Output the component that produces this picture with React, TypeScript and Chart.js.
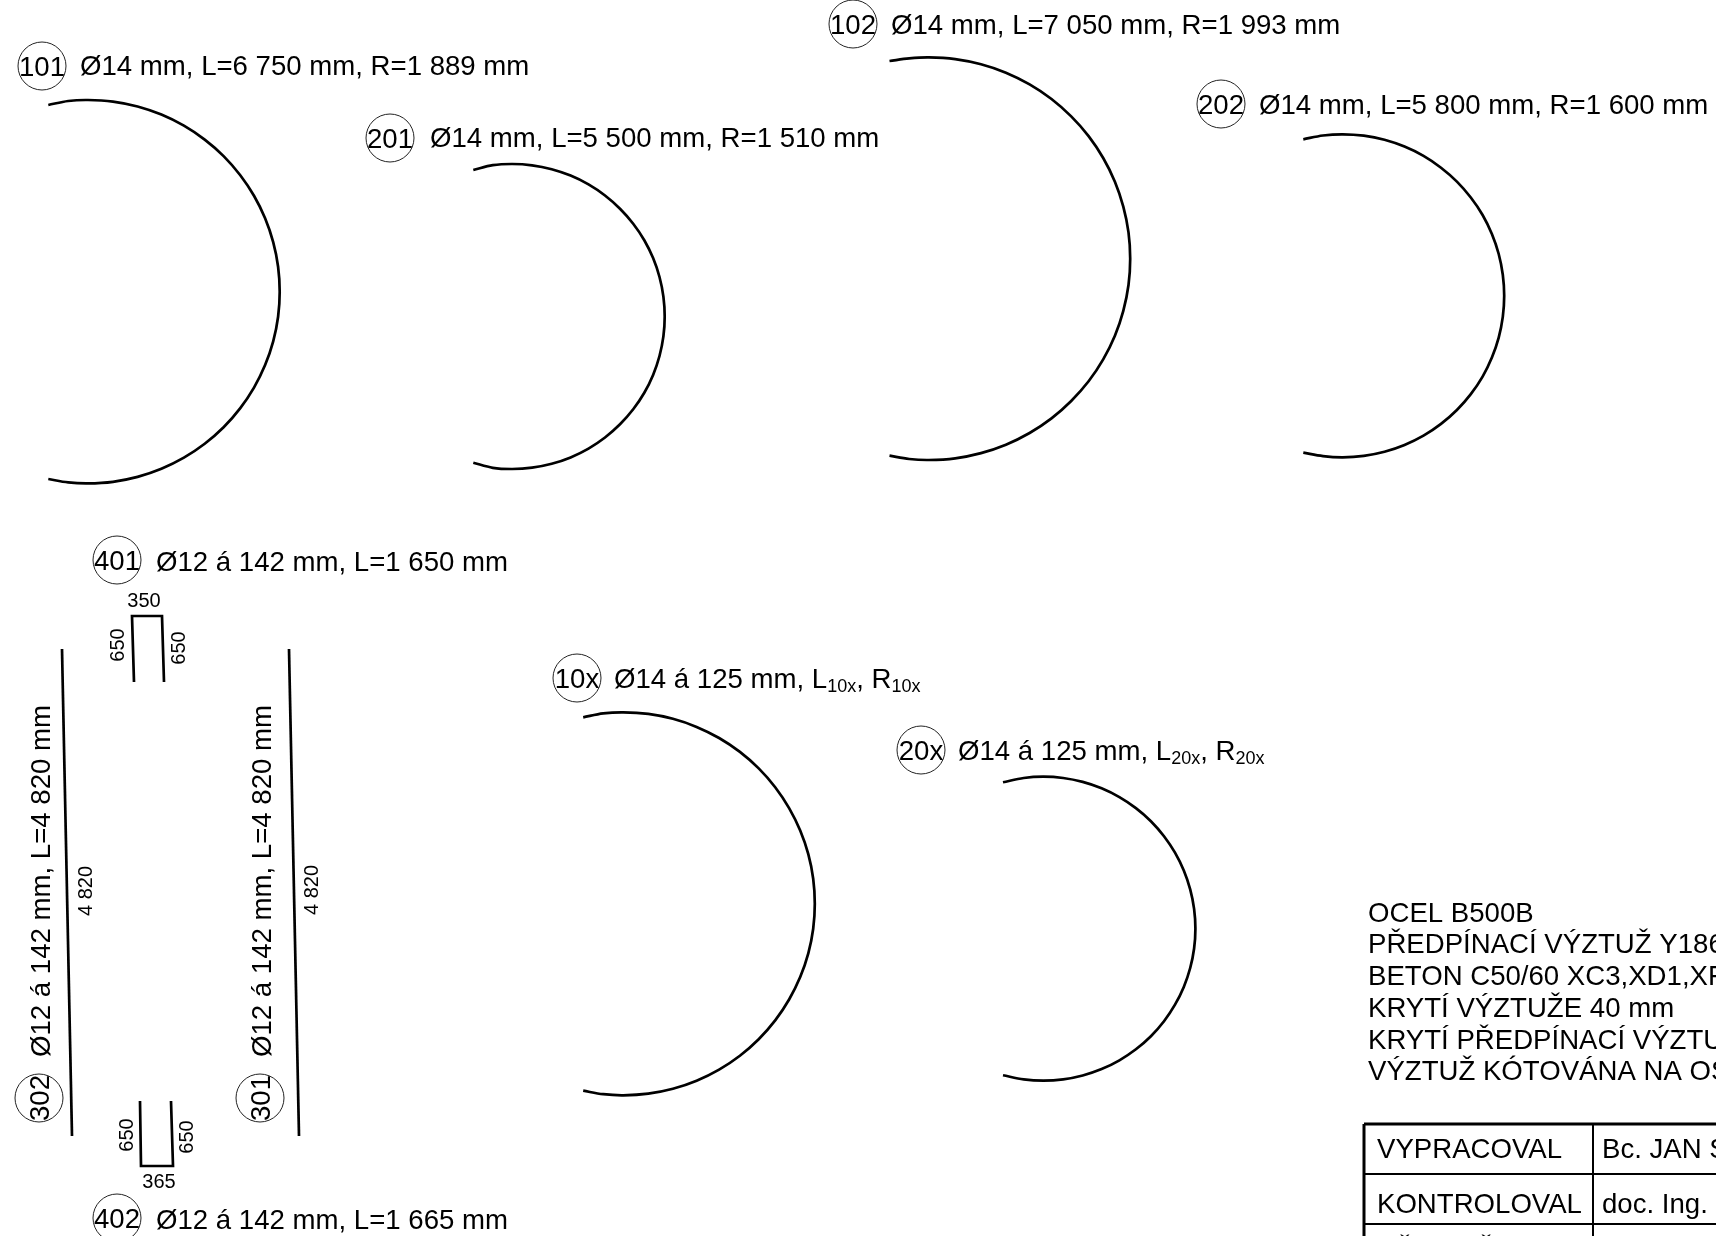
import React, { useEffect, useRef } from "react";
import { Chart, registerables } from "chart.js";

Chart.register(...registerables);

// Bar shapes (drawing pixels: x to the right, y downward)
const arc101X = [48.3, 68.2, 88, 113, 137.6, 161.4, 183.9, 204.7, 223.6, 240.1, 254, 265.1, 273.2, 278.1, 279.7, 278.1, 273.2, 265.1, 254, 240.1, 223.6, 204.7, 183.9, 161.4, 137.6, 113, 88, 68.2, 48.3];
const arc101Y = [105, 101, 100, 101.6, 106.5, 114.6, 125.7, 139.6, 156.1, 175, 195.8, 218.3, 242.1, 266.7, 291.7, 316.7, 341.3, 365.1, 387.6, 408.4, 427.3, 443.8, 457.7, 468.8, 476.9, 481.8, 483.4, 482.4, 479];
const arc201X = [473.3, 492.8, 512.2, 532.1, 551.7, 570.6, 588.5, 605, 620, 633.2, 644.3, 653.1, 659.5, 663.4, 664.7, 663.4, 659.5, 653.1, 644.3, 633.2, 620, 605, 588.5, 570.6, 551.7, 532.1, 512.2, 492.8, 473.3];
const arc201Y = [170, 165.2, 164, 165.3, 169.2, 175.6, 184.4, 195.5, 208.7, 223.7, 240.2, 258.1, 277, 296.6, 316.5, 336.4, 356, 374.9, 392.8, 409.3, 424.3, 437.5, 448.6, 457.4, 463.8, 467.7, 469, 467.8, 462.7];
const arc102X = [889.5, 909.2, 928.9, 955.2, 981, 1005.9, 1029.6, 1051.5, 1071.2, 1088.6, 1103.2, 1114.9, 1123.3, 1128.5, 1130.2, 1128.5, 1123.3, 1114.9, 1103.2, 1088.6, 1071.2, 1051.5, 1029.6, 1005.9, 981, 955.2, 928.9, 909.2, 889.5];
const arc102Y = [61, 58.4, 57.4, 59.1, 64.3, 72.7, 84.4, 99, 116.4, 136.1, 158, 181.7, 206.6, 232.4, 258.7, 285, 310.8, 335.7, 359.4, 381.3, 401, 418.4, 433, 444.7, 453.1, 458.3, 460, 459, 455.7];
const arc202X = [1303.3, 1323, 1342.7, 1363.8, 1384.5, 1404.5, 1423.5, 1441, 1456.9, 1470.8, 1482.6, 1491.9, 1498.7, 1502.8, 1504.2, 1502.8, 1498.7, 1491.9, 1482.6, 1470.8, 1456.9, 1441, 1423.5, 1404.5, 1384.5, 1363.8, 1342.7, 1323, 1303.3];
const arc202Y = [139.3, 135.5, 134.3, 135.7, 139.8, 146.6, 155.9, 167.7, 181.6, 197.5, 215, 234, 254, 274.7, 295.8, 316.9, 337.6, 357.6, 376.6, 394.1, 410, 423.9, 435.7, 445, 451.8, 455.9, 457.3, 456.1, 452.7];
const arc10xX = [583.2, 603.2, 623.3, 648.3, 672.9, 696.6, 719.1, 739.9, 758.7, 775.2, 789.1, 800.2, 808.3, 813.2, 814.8, 813.2, 808.3, 800.2, 789.1, 775.2, 758.7, 739.9, 719.1, 696.6, 672.9, 648.3, 623.3, 603.2, 583.2];
const arc10xY = [717.3, 713.4, 712.3, 713.9, 718.8, 726.9, 738, 751.9, 768.4, 787.2, 808.1, 830.5, 854.2, 878.8, 903.8, 928.8, 953.4, 977.1, 999.5, 1020.4, 1039.2, 1055.7, 1069.6, 1080.7, 1088.8, 1093.7, 1095.3, 1094.2, 1090.7];
const arc20xX = [1003, 1023.7, 1043.4, 1063.2, 1082.7, 1101.6, 1119.4, 1135.9, 1150.9, 1164, 1175, 1183.8, 1190.2, 1194.1, 1195.4, 1194.1, 1190.2, 1183.8, 1175, 1164, 1150.9, 1135.9, 1119.4, 1101.6, 1082.7, 1063.2, 1043.4, 1023.7, 1003];
const arc20xY = [782.3, 778, 776.7, 778, 781.9, 788.3, 797.1, 808.1, 821.2, 836.2, 852.7, 870.5, 889.4, 908.9, 928.7, 948.5, 968, 986.9, 1004.7, 1021.2, 1036.2, 1049.3, 1060.3, 1069.1, 1075.5, 1079.4, 1080.7, 1079.4, 1075.3];

const bar302X = [62, 72];
const bar302Y = [649, 1136];
const bar301X = [289, 299];
const bar301Y = [649, 1136];
const stirrup401X = [134, 132, 162, 164];
const stirrup401Y = [682, 616, 616, 682];
const stirrup402X = [140, 141, 173, 171];
const stirrup402Y = [1101, 1166, 1166, 1101];

const gridX = [1364, 1716];
const gridRowY = [1124, 1174, 1224];
const gridDividerX = [1593, 1593];
const gridDividerY = [1124, 1236];
const gridLeftX = [1364, 1364];

const callouts = ["101", "201", "102", "202", "401", "402", "10x", "20x", "302", "301"];
const calloutX = [42, 390, 853, 1221, 117, 117, 577, 921, 39, 260];
const calloutY = [66, 138, 24, 104, 560, 1218, 678, 750, 1098, 1098];

const captions = [
  "Ø14 mm, L=6 750 mm, R=1 889 mm",
  "Ø14 mm, L=5 500 mm, R=1 510 mm",
  "Ø14 mm, L=7 050 mm, R=1 993 mm",
  "Ø14 mm, L=5 800 mm, R=1 600 mm",
  "Ø12 á 142 mm, L=1 650 mm",
  "Ø12 á 142 mm, L=1 665 mm",
];
const captionX = [80, 430, 891, 1259, 156, 156];
const captionY = [75, 147, 34, 114, 571, 1229];

const rotatedCaption = "Ø12 á 142 mm, L=4 820 mm";
const rotatedCaptionX = [50, 271];
const rotatedCaptionY = [1057, 1057];

const dimensions = ["350", "365"];
const dimensionX = [144, 159];
const dimensionY = [607, 1188];
const rotatedDimensions = ["650", "650", "650", "650", "4 820", "4 820"];
const rotatedDimensionX = [124, 185, 133, 193, 92, 318];
const rotatedDimensionY = [645, 648, 1135, 1137, 891, 890];

const notes = [
  "OCEL B500B",
  "PŘEDPÍNACÍ VÝZTUŽ Y1860",
  "BETON C50/60 XC3,XD1,XF1",
  "KRYTÍ VÝZTUŽE 40 mm",
  "KRYTÍ PŘEDPÍNACÍ VÝZTUŽE",
  "VÝZTUŽ KÓTOVÁNA NA OSU",
];
const noteX = 1368;
const noteY = [922, 953, 985, 1017, 1049, 1080];

const titleLeft = ["VYPRACOVAL", "KONTROLOVAL", "PŘEDMĚT"];
const titleRight = ["Bc. JAN S", "doc. Ing. P", ""];
const titleLeftX = 1377;
const titleRightX = 1602;
const titleY = [1158, 1213, 1259];

const FONT = '"Liberation Sans", Arial, sans-serif';
const TEXT_SIZE = 27.6;

const lineSet = (xs: number[], ys: number[], width: number, smooth = false) => ({
  data: xs.map((x, i) => ({ x, y: ys[i] })),
  borderColor: "#000",
  borderWidth: width,
  pointRadius: 0,
  showLine: true,
  fill: false,
  tension: smooth ? 1 / 3 : 0,
  borderCapStyle: "butt" as const,
  borderJoinStyle: "miter" as const,
});

const annotations = {
  id: "annotations",
  afterDatasetsDraw(chart: any) {
    const { ctx, scales } = chart;
    const px = (v: number) => scales.x.getPixelForValue(v);
    const py = (v: number) => scales.y.getPixelForValue(v);
    const text = (s: string, x: number, y: number, size: number, rotated = false, align: CanvasTextAlign = "left") => {
      ctx.save();
      ctx.translate(px(x), py(y));
      if (rotated) ctx.rotate(-Math.PI / 2);
      ctx.font = `${size}px ${FONT}`;
      ctx.fillStyle = "#000";
      ctx.textAlign = align;
      ctx.textBaseline = "alphabetic";
      ctx.fillText(s, 0, 0);
      ctx.restore();
    };

    callouts.forEach((label, i) => {
      ctx.save();
      ctx.strokeStyle = "#222";
      ctx.lineWidth = 1;
      ctx.beginPath();
      ctx.arc(px(calloutX[i]), py(calloutY[i]), 24, 0, Math.PI * 2);
      ctx.stroke();
      ctx.restore();
      if (i >= 8) text(label, calloutX[i] + 10, calloutY[i], TEXT_SIZE, true, "center");
      else text(label, calloutX[i], calloutY[i] + 10, TEXT_SIZE, false, "center");
    });

    captions.forEach((s, i) => text(s, captionX[i], captionY[i], TEXT_SIZE));
    rotatedCaptionX.forEach((x, i) => text(rotatedCaption, x, rotatedCaptionY[i], TEXT_SIZE, true));
    dimensions.forEach((s, i) => text(s, dimensionX[i], dimensionY[i], 20, false, "center"));
    rotatedDimensions.forEach((s, i) => text(s, rotatedDimensionX[i], rotatedDimensionY[i], 20, true, "center"));

    // captions with subscripts
    const subCaption = (lead: string, sub: string, x: number, y: number) => {
      let cursor = px(x);
      const parts: [string, boolean][] = [[lead + "L", false], [sub, true], [", R", false], [sub, true]];
      parts.forEach(([s, small]) => {
        ctx.font = `${small ? 18 : TEXT_SIZE}px ${FONT}`;
        ctx.fillStyle = "#000";
        ctx.textAlign = "left";
        ctx.fillText(s, cursor, py(y) + (small ? 4 : 0));
        cursor += ctx.measureText(s).width;
      });
    };
    subCaption("Ø14 á 125 mm, ", "10x", 614, 688);
    subCaption("Ø14 á 125 mm, ", "20x", 958, 760);

    notes.forEach((s, i) => text(s, noteX, noteY[i], TEXT_SIZE));
    titleLeft.forEach((s, i) => text(s, titleLeftX, titleY[i], TEXT_SIZE));
    titleRight.forEach((s, i) => text(s, titleRightX, titleY[i], TEXT_SIZE));
  },
};

export default function App() {
  const ref = useRef<HTMLCanvasElement>(null);
  useEffect(() => {
    const chart = new Chart(ref.current!, {
      type: "scatter",
      data: {
        datasets: [
          lineSet(arc101X, arc101Y, 2.7, true),
          lineSet(arc201X, arc201Y, 2.7, true),
          lineSet(arc102X, arc102Y, 2.7, true),
          lineSet(arc202X, arc202Y, 2.7, true),
          lineSet(arc10xX, arc10xY, 2.7, true),
          lineSet(arc20xX, arc20xY, 2.7, true),
          lineSet(bar302X, bar302Y, 2.7),
          lineSet(bar301X, bar301Y, 2.7),
          lineSet(stirrup401X, stirrup401Y, 2.7),
          lineSet(stirrup402X, stirrup402Y, 2.7),
          lineSet(gridX, [gridRowY[0], gridRowY[0]], 3),
          lineSet(gridX, [gridRowY[1], gridRowY[1]], 2),
          lineSet(gridX, [gridRowY[2], gridRowY[2]], 2),
          lineSet(gridLeftX, gridDividerY, 3),
          lineSet(gridDividerX, gridDividerY, 2),
        ] as any,
      },
      plugins: [annotations],
      options: {
        animation: false,
        responsive: false,
        maintainAspectRatio: false,
        layout: { padding: 0 },
        plugins: { legend: { display: false }, tooltip: { enabled: false }, title: { display: false } },
        scales: {
          x: { type: "linear", min: 0, max: 1716, display: false },
          y: { type: "linear", min: 0, max: 1236, reverse: true, display: false },
        },
      },
    });
    return () => chart.destroy();
  }, []);
  return (
    <div style={{ position: "fixed", inset: 0, background: "#fff", overflow: "hidden" }}>
      <canvas ref={ref} width={1716} height={1236} style={{ display: "block", width: 1716, height: 1236 }} />
    </div>
  );
}
